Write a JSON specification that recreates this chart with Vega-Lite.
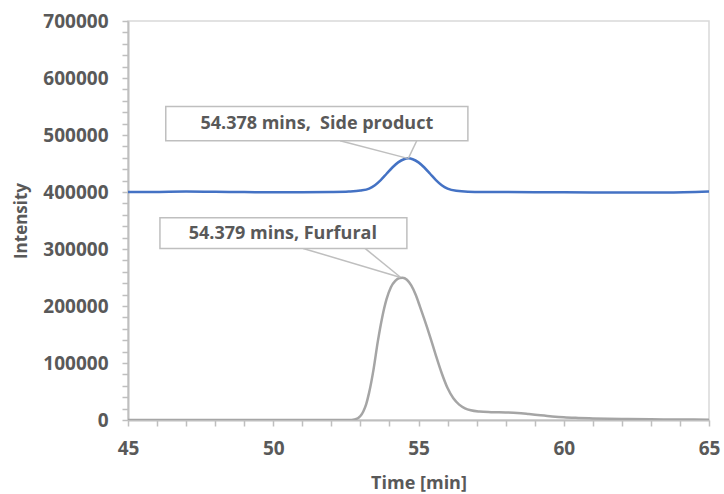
{
  "$schema": "https://vega.github.io/schema/vega-lite/v6.json",
  "width": 581,
  "height": 399,
  "autosize": "none",
  "padding": {"left": 128, "top": 21, "right": 15, "bottom": 74},
  "background": "white",
  "config": {
    "view": {"stroke": "#D9D9D9", "strokeWidth": 1.5},
    "font": "Open Sans"
  },
  "datasets": {
    "curves": [
      {"t": 45, "v": 400000, "s": "Side product"},
      {"t": 46, "v": 400200, "s": "Side product"},
      {"t": 47, "v": 400800, "s": "Side product"},
      {"t": 48, "v": 400400, "s": "Side product"},
      {"t": 49, "v": 399800, "s": "Side product"},
      {"t": 50, "v": 399500, "s": "Side product"},
      {"t": 51, "v": 399600, "s": "Side product"},
      {"t": 52, "v": 400000, "s": "Side product"},
      {"t": 52.6, "v": 400800, "s": "Side product"},
      {"t": 53.0, "v": 402500, "s": "Side product"},
      {"t": 53.3, "v": 406000, "s": "Side product"},
      {"t": 53.5, "v": 412000, "s": "Side product"},
      {"t": 53.7, "v": 421000, "s": "Side product"},
      {"t": 53.9, "v": 432000, "s": "Side product"},
      {"t": 54.1, "v": 443000, "s": "Side product"},
      {"t": 54.3, "v": 452000, "s": "Side product"},
      {"t": 54.5, "v": 457500, "s": "Side product"},
      {"t": 54.65, "v": 459000, "s": "Side product"},
      {"t": 54.8, "v": 457500, "s": "Side product"},
      {"t": 55.0, "v": 452000, "s": "Side product"},
      {"t": 55.2, "v": 443000, "s": "Side product"},
      {"t": 55.4, "v": 432000, "s": "Side product"},
      {"t": 55.6, "v": 421000, "s": "Side product"},
      {"t": 55.8, "v": 412000, "s": "Side product"},
      {"t": 56.0, "v": 406000, "s": "Side product"},
      {"t": 56.3, "v": 402000, "s": "Side product"},
      {"t": 56.7, "v": 400500, "s": "Side product"},
      {"t": 57.5, "v": 400000, "s": "Side product"},
      {"t": 59, "v": 399500, "s": "Side product"},
      {"t": 61, "v": 399300, "s": "Side product"},
      {"t": 62.5, "v": 399000, "s": "Side product"},
      {"t": 63.5, "v": 399200, "s": "Side product"},
      {"t": 65, "v": 401000, "s": "Side product"},
      {"t": 45, "v": 0, "s": "Furfural"},
      {"t": 50, "v": 0, "s": "Furfural"},
      {"t": 52.6, "v": 0, "s": "Furfural"},
      {"t": 52.8, "v": 1000, "s": "Furfural"},
      {"t": 53.0, "v": 7000, "s": "Furfural"},
      {"t": 53.1, "v": 15000, "s": "Furfural"},
      {"t": 53.2, "v": 28000, "s": "Furfural"},
      {"t": 53.3, "v": 48000, "s": "Furfural"},
      {"t": 53.45, "v": 88000, "s": "Furfural"},
      {"t": 53.6, "v": 138000, "s": "Furfural"},
      {"t": 53.75, "v": 180000, "s": "Furfural"},
      {"t": 53.9, "v": 212000, "s": "Furfural"},
      {"t": 54.05, "v": 233000, "s": "Furfural"},
      {"t": 54.2, "v": 244000, "s": "Furfural"},
      {"t": 54.35, "v": 249000, "s": "Furfural"},
      {"t": 54.45, "v": 249500, "s": "Furfural"},
      {"t": 54.6, "v": 246000, "s": "Furfural"},
      {"t": 54.75, "v": 236000, "s": "Furfural"},
      {"t": 54.9, "v": 220000, "s": "Furfural"},
      {"t": 55.05, "v": 199000, "s": "Furfural"},
      {"t": 55.2, "v": 177000, "s": "Furfural"},
      {"t": 55.4, "v": 146000, "s": "Furfural"},
      {"t": 55.6, "v": 113000, "s": "Furfural"},
      {"t": 55.8, "v": 82000, "s": "Furfural"},
      {"t": 56.0, "v": 56000, "s": "Furfural"},
      {"t": 56.2, "v": 38000, "s": "Furfural"},
      {"t": 56.4, "v": 27000, "s": "Furfural"},
      {"t": 56.6, "v": 20500, "s": "Furfural"},
      {"t": 56.8, "v": 17000, "s": "Furfural"},
      {"t": 57.1, "v": 14800, "s": "Furfural"},
      {"t": 57.5, "v": 13800, "s": "Furfural"},
      {"t": 58.0, "v": 13200, "s": "Furfural"},
      {"t": 58.4, "v": 12400, "s": "Furfural"},
      {"t": 58.8, "v": 10500, "s": "Furfural"},
      {"t": 59.2, "v": 8300, "s": "Furfural"},
      {"t": 59.6, "v": 6300, "s": "Furfural"},
      {"t": 60.0, "v": 4700, "s": "Furfural"},
      {"t": 60.5, "v": 3600, "s": "Furfural"},
      {"t": 61, "v": 2800, "s": "Furfural"},
      {"t": 62, "v": 1800, "s": "Furfural"},
      {"t": 63, "v": 1200, "s": "Furfural"},
      {"t": 64, "v": 800, "s": "Furfural"},
      {"t": 65, "v": 600, "s": "Furfural"}
    ],
    "boxes": [
      {"x1": 46.3, "x2": 56.7, "y1": 490000, "y2": 550000, "label": "54.378 mins,\u00a0 Side product", "tx": 51.5, "ty": 519000},
      {"x1": 46.1, "x2": 54.6, "y1": 301000, "y2": 355000, "label": "54.379 mins, Furfural", "tx": 50.33, "ty": 326000}
    ],
    "pointers": [
      {"x1": 52.3, "y1": 490000, "x2": 54.63, "y2": 459000},
      {"x1": 54.94, "y1": 490000, "x2": 54.65, "y2": 459000},
      {"x1": 51.03, "y1": 301000, "x2": 54.36, "y2": 250500},
      {"x1": 53.16, "y1": 301000, "x2": 54.38, "y2": 250500}
    ]
  },
  "layer": [
    {
      "data": {"name": "curves"},
      "mark": {"type": "line", "strokeWidth": 2.5, "interpolate": "monotone", "clip": true},
      "encoding": {
        "x": {
          "field": "t", "type": "quantitative",
          "scale": {"domain": [45, 65], "nice": false, "zero": false},
          "axis": {
            "title": "Time [min]",
            "format": "d",
            "values": [45,46,47,48,49,50,51,52,53,54,55,56,57,58,59,60,61,62,63,64,65],
            "tickCount": 100,
            "labelExpr": "datum.value % 5 == 0 ? datum.label : ''",
            "labelOverlap": false,
            "labelFont": "Open Sans", "labelFontWeight": "bold", "labelFontSize": 19, "labelColor": "#595959",
            "titleFont": "Open Sans", "titleFontWeight": "bold", "titleFontSize": 18, "titleColor": "#595959",
            "domainColor": "#BFBFBF", "domainWidth": 2,
            "tickColor": "#BFBFBF", "tickWidth": 1.5, "tickSize": 6,
            "grid": false,
            "labelPadding": 13,
            "titlePadding": 16,
            "labelFlush": false
          }
        },
        "y": {
          "field": "v", "type": "quantitative",
          "scale": {"domain": [0, 700000], "nice": false},
          "axis": {
            "title": "Intensity",
            "format": "d",
            "values": [0,20000,40000,60000,80000,100000,120000,140000,160000,180000,200000,220000,240000,260000,280000,300000,320000,340000,360000,380000,400000,420000,440000,460000,480000,500000,520000,540000,560000,580000,600000,620000,640000,660000,680000,700000],
            "tickCount": 100,
            "labelExpr": "datum.value % 100000 == 0 ? datum.label : ''",
            "labelOverlap": false,
            "labelFont": "Open Sans", "labelFontWeight": "bold", "labelFontSize": 19, "labelColor": "#595959",
            "titleFont": "Open Sans", "titleFontWeight": "bold", "titleFontSize": 17, "titleColor": "#595959",
            "domainColor": "#BFBFBF", "domainWidth": 2,
            "tickColor": "#BFBFBF", "tickWidth": 1.5, "tickSize": 6,
            "grid": false,
            "labelPadding": 14,
            "titlePadding": 12,
            "labelFlush": false
          }
        },
        "color": {
          "field": "s", "type": "nominal",
          "scale": {"domain": ["Side product", "Furfural"], "range": ["#4472C4", "#A5A5A5"]},
          "legend": null
        },
        "detail": {"field": "s"}
      }
    },
    {
      "data": {"name": "pointers"},
      "mark": {"type": "rule", "color": "#BFBFBF", "strokeWidth": 1.5},
      "encoding": {
        "x": {"field": "x1", "type": "quantitative"},
        "x2": {"field": "x2"},
        "y": {"field": "y1", "type": "quantitative"},
        "y2": {"field": "y2"}
      }
    },
    {
      "data": {"name": "boxes"},
      "mark": {"type": "rect", "fill": "white", "stroke": "#BFBFBF", "strokeWidth": 1.5},
      "encoding": {
        "x": {"field": "x1", "type": "quantitative"},
        "x2": {"field": "x2"},
        "y": {"field": "y1", "type": "quantitative"},
        "y2": {"field": "y2"}
      }
    },
    {
      "data": {"name": "boxes"},
      "mark": {"type": "text", "font": "Open Sans", "fontWeight": "bold", "fontSize": 18, "color": "#595959", "align": "center", "baseline": "middle"},
      "encoding": {
        "x": {"field": "tx", "type": "quantitative"},
        "y": {"field": "ty", "type": "quantitative"},
        "text": {"field": "label"}
      }
    }
  ]
}
